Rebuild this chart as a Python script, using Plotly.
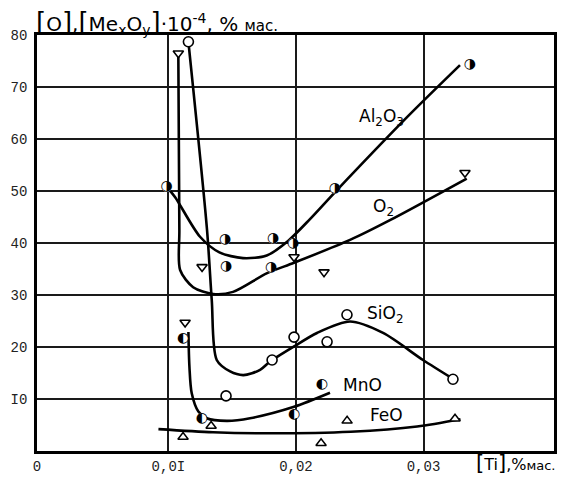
import plotly.graph_objects as go

# ---------------- data ----------------
X_MIN, X_MAX = -0.0003, 0.04023
X_TICKS = [X_MIN, 0.01, 0.02, 0.03]
X_TICK_TEXT = ["0", "0,0I", "0,02", "0,03"]
Y_TICKS = [10, 20, 30, 40, 50, 60, 70, 80]
Y_TICK_TEXT = ["I0", "20", "30", "40", "50", "60", "70", "80"]

# Al2O3 (half-filled circles)
al_x = [0.00987, 0.01444, 0.01821, 0.01977, 0.02306, 0.03364, 0.01452, 0.01805]
al_y = [50.8, 40.6, 40.8, 40.0, 50.4, 74.4, 35.4, 35.2]
al_line_x = [0.00987, 0.01053, 0.01248, 0.01400, 0.01585, 0.01771, 0.01938, 0.0211, 0.02307, 0.02871, 0.03286]
al_line_y = [50.8, 48.8, 41.2, 38.2, 37.1, 37.6, 40.4, 44.6, 49.8, 64.2, 74.2]

# O2 (down triangles)
o2_x = [0.01078, 0.01131, 0.01264, 0.01985, 0.02220, 0.03325]
o2_y = [76.5, 24.7, 35.4, 37.3, 34.4, 53.5]
o2_line_x = [0.01078, 0.01086, 0.01092, 0.01194, 0.01350, 0.01507, 0.01774, 0.01985, 0.02424, 0.02737, 0.03339]
o2_line_y = [75.8, 42.5, 34.8, 31.5, 30.2, 30.6, 34.2, 36.2, 40.6, 44.4, 52.4]

# SiO2 (open circles)
si_x = [0.01157, 0.01452, 0.01813, 0.01985, 0.02244, 0.02400, 0.03231]
si_y = [78.7, 10.6, 17.5, 21.9, 21.0, 26.2, 13.8]
si_line_x = [0.01157, 0.01303, 0.01340, 0.01379, 0.01484, 0.01588, 0.01719, 0.01797, 0.01985, 0.02165, 0.02424, 0.02683, 0.02996, 0.03223]
si_line_y = [78.7, 42.5, 29.0, 17.5, 15.3, 14.6, 15.6, 17.2, 20.1, 22.7, 24.9, 22.7, 17.5, 14.0]

# MnO (half-filled circles)
mn_x = [0.01115, 0.01262, 0.01985, 0.02204]
mn_y = [21.7, 6.3, 7.1, 12.7]
mn_line_x = [0.01157, 0.01165, 0.01183, 0.01235, 0.01301, 0.01458, 0.0164, 0.01985, 0.02267]
mn_line_y = [22.9, 16.2, 11.1, 7.6, 6.3, 5.8, 6.3, 8.5, 11.2]

# FeO (up triangles)
fe_x = [0.01115, 0.01335, 0.02197, 0.02401, 0.03247]
fe_y = [2.7, 4.8, 1.5, 5.8, 6.2]
fe_line_x = [0.00922, 0.0135, 0.0180, 0.0243, 0.0295, 0.0329]
fe_line_y = [4.2, 3.6, 3.4, 3.7, 4.7, 6.1]

LABELS = ["Al<sub>2</sub>O<sub>3</sub>", "O<sub>2</sub>", "SiO<sub>2</sub>", "MnO", "FeO"]
LABEL_X = [0.02667, 0.02690, 0.02700, 0.02518, 0.02706]
LABEL_Y = [64.2, 46.9, 26.2, 12.7, 6.9]

# ---------------- figure ----------------
fig = go.Figure()
LW = 2.6
for lx, ly in [(al_line_x, al_line_y), (o2_line_x, o2_line_y), (si_line_x, si_line_y),
               (mn_line_x, mn_line_y), (fe_line_x, fe_line_y)]:
    fig.add_trace(go.Scatter(x=lx, y=ly, mode="lines",
                             line=dict(color="black", width=LW, shape="spline", smoothing=0.8),
                             hoverinfo="skip", showlegend=False))

# open circles (SiO2)
fig.add_trace(go.Scatter(x=si_x, y=si_y, mode="markers",
                         marker=dict(symbol="circle", size=10, color="white",
                                     line=dict(color="black", width=1.6)),
                         showlegend=False))
# down triangles (O2)
fig.add_trace(go.Scatter(x=o2_x, y=o2_y, mode="markers",
                         marker=dict(symbol="triangle-down", size=9, color="white",
                                     line=dict(color="black", width=1.6)),
                         showlegend=False))
# up triangles (FeO)
fig.add_trace(go.Scatter(x=fe_x, y=fe_y, mode="markers",
                         marker=dict(symbol="triangle-up", size=9, color="white",
                                     line=dict(color="black", width=1.5)),
                         showlegend=False))
# half-filled circles: white base + glyph
for hx, hy, glyph in [(al_x, al_y, "\u25D1"), (mn_x, mn_y, "\u25D0")]:
    fig.add_trace(go.Scatter(x=hx, y=hy, mode="markers",
                             marker=dict(symbol="circle", size=10, color="white",
                                         line=dict(width=0)),
                             showlegend=False))
    fig.add_trace(go.Scatter(x=hx, y=hy, mode="text", text=[glyph] * len(hx),
                             textposition="middle center",
                             textfont=dict(family="DejaVu Sans", size=14, color="black"),
                             showlegend=False))

for t, x, y in zip(LABELS, LABEL_X, LABEL_Y):
    fig.add_annotation(x=x, y=y, text=t, showarrow=False,
                       font=dict(family="DejaVu Sans", size=17, color="black"))

# axis titles
fig.add_annotation(xref="paper", yref="paper", x=0, y=1.031, xanchor="left", yanchor="middle",
                   xshift=-3, showarrow=False,
                   text="<span style='font-size:26px'>[</span>O<span style='font-size:26px'>]</span>,"
                        "<span style='font-size:26px'>[</span>Me<sub>x</sub>O<sub>y</sub>"
                        "<span style='font-size:26px'>]</span>·10<sup>-4</sup>, % "
                        "<span style='font-size:15px'>мас.</span>",
                   font=dict(family="DejaVu Sans", size=20, color="black"))
fig.add_annotation(xref="paper", yref="paper", x=0.846, y=-0.03, xanchor="left", yanchor="middle",
                   showarrow=False,
                   text="<span style='font-size:21px'>[</span>Ti<span style='font-size:21px'>]</span>,%"
                        "<span style='font-size:13px'>мас.</span>",
                   font=dict(family="DejaVu Sans", size=16, color="black"))

axis_common = dict(showgrid=True, gridcolor="#1a1a1a", gridwidth=1.6,
                   showline=True, linecolor="black", linewidth=2.6, mirror=True,
                   ticks="", zeroline=False, automargin=False,
                   tickfont=dict(family="Liberation Mono", size=14, color="#222"))
fig.update_xaxes(range=[X_MIN, X_MAX], tickvals=X_TICKS, ticktext=X_TICK_TEXT, **axis_common)
fig.update_yaxes(range=[0, 80], tickvals=Y_TICKS, ticktext=Y_TICK_TEXT,
                 ticklabelstandoff=4, **axis_common)

# the page body adds an 8px offset; margins compensate so the plot area lands at 37..554 x 35..451
fig.update_layout(width=562, height=469, autosize=False,
                  margin=dict(l=29, r=16, t=27, b=26),
                  plot_bgcolor="white", paper_bgcolor="white",
                  showlegend=False)

fig.write_html("out.html")
